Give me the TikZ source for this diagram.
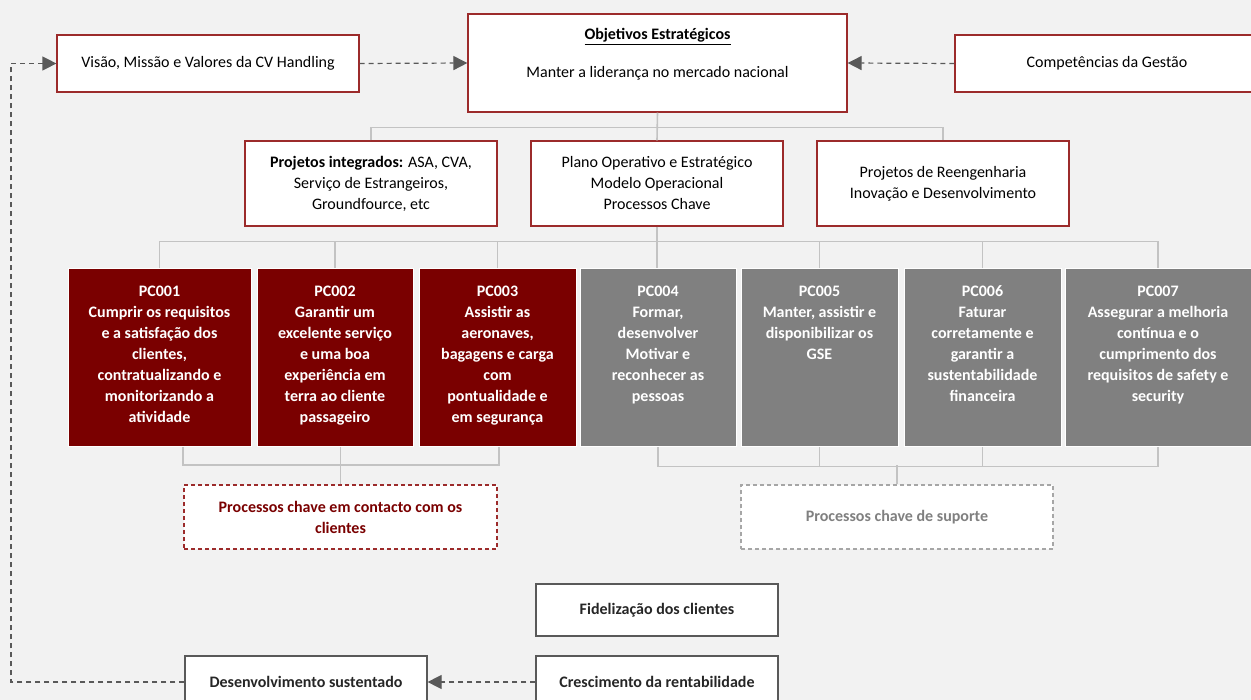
\documentclass[tikz,border=0pt]{standalone}
\usepackage{fontspec}
\setmainfont{Carlito}
\usetikzlibrary{arrows.meta}
\definecolor{bg}{HTML}{F2F2F2}
\definecolor{boxred}{HTML}{9C2B2B}
\definecolor{pcred}{HTML}{7A0000}
\definecolor{pcgray}{HTML}{808080}
\definecolor{treegray}{HTML}{C3C3C3}
\definecolor{arrgray}{HTML}{595959}
\definecolor{supgray}{HTML}{A6A6A6}
\definecolor{suptext}{HTML}{808080}
\definecolor{darktext}{HTML}{262626}
\newcommand{\basesize}{\fontsize{16}{21}\selectfont}
\newcommand{\pctxt}[2]{\begin{minipage}[c][178pt][t]{#1}\centering\vspace*{17pt}#2\end{minipage}}
\tikzset{
  topbox/.style={draw=boxred, fill=white, line width=1.2pt, align=center, inner sep=0pt, text=black},
  pcbox/.style={draw=white, line width=1pt, inner sep=0pt, text=white, font=\basesize\bfseries, minimum height=178pt},
  redpc/.style={pcbox, fill=pcred},
  graypc/.style={pcbox, fill=pcgray},
  tree/.style={draw=treegray, line width=1.6pt},
  darr/.style={draw=arrgray, line width=1.2pt, dash pattern=on 5pt off 4pt, -{Triangle[length=14pt,width=14pt]}},
  ckbox/.style={draw=boxred, fill=white, line width=1.2pt, dash pattern=on 4pt off 3pt, align=center, inner sep=0pt, text=pcred, font=\basesize\bfseries},
  ksbox/.style={draw=supgray, fill=white, line width=1.2pt, dash pattern=on 4pt off 3pt, align=center, inner sep=0pt, text=suptext, font=\basesize\bfseries},
  botbox/.style={draw=arrgray, fill=white, line width=1.2pt, align=center, inner sep=0pt, text=darktext, font=\basesize\bfseries, minimum width=242pt, minimum height=52pt}
}
\begin{document}
\begin{tikzpicture}[x=1pt,y=-1pt, font=\basesize]
\useasboundingbox (0,0) rectangle (1251,700);
\fill[bg] (0,0) rectangle (1251,700);

% top row
\node[topbox, minimum width=302pt, minimum height=57pt] (vis) at (208,63.5) {Visão, Missão e Valores da CV Handling};
\node[topbox, minimum width=379pt, minimum height=98pt] (obj) at (657.5,63) {};
\node (objt) at (657.5,36.5) {\bfseries\underline{Objetivos Estratégicos}};
\node (objm) at (657.5,73.5) {Manter a liderança no mercado nacional};
\node[topbox, minimum width=304pt, minimum height=57pt] (comp) at (1107,63.5) {Competências da Gestão};

% second row
\node[topbox, minimum width=252pt, minimum height=85pt] (pi) at (371,183.5) {\textbf{Projetos integrados:} ASA, CVA,\\Serviço de Estrangeiros,\\Groundfource, etc};
\node[topbox, minimum width=252pt, minimum height=85pt] (pl) at (657,183.5) {Plano Operativo e Estratégico\\Modelo Operacional\\Processos Chave};
\node[topbox, minimum width=252pt, minimum height=85pt] (re) at (943,183.5) {Projetos de Reengenharia\\Inovação e Desenvolvimento};

% PC row
\node[redpc, minimum width=183pt] (pc1) at (159.5,358) {\pctxt{183pt}{PC001\\Cumprir os requisitos\\e a satisfação dos\\clientes,\\contratualizando e\\monitorizando a\\atividade}};
\node[redpc, minimum width=156pt] (pc2) at (335,358) {\pctxt{156pt}{PC002\\Garantir um\\excelente serviço\\e uma boa\\experiência em\\terra ao cliente\\passageiro}};
\node[redpc, minimum width=157pt] (pc3) at (497.5,358) {\pctxt{157pt}{PC003\\Assistir as\\aeronaves,\\bagagens e carga\\com\\pontualidade e\\em segurança}};
\node[graypc, minimum width=156pt] (pc4) at (658,358) {\pctxt{156pt}{PC004\\Formar,\\desenvolver\\Motivar e\\reconhecer as\\pessoas}};
\node[graypc, minimum width=157pt] (pc5) at (819.5,358) {\pctxt{157pt}{PC005\\Manter, assistir e\\disponibilizar os\\GSE}};
\node[graypc, minimum width=157pt] (pc6) at (982.5,358) {\pctxt{157pt}{PC006\\Faturar\\corretamente e\\garantir a\\sustentabilidade\\financeira}};
\node[graypc, minimum width=186pt] (pc7) at (1158,358) {\pctxt{186pt}{PC007\\Assegurar a melhoria\\contínua e o\\cumprimento dos\\requisitos de safety e\\security}};

% group boxes
\node[ckbox, minimum width=313pt, minimum height=64pt] (ck) at (340.5,517) {Processos chave em contacto com os\\clientes};
\node[ksbox, minimum width=312pt, minimum height=64pt] (ks) at (897,517) {Processos chave de suporte};

% bottom boxes
\node[botbox] (fid) at (657,610) {Fidelização dos clientes};
\node[botbox] (cr) at (657,682) {Crescimento da rentabilidade};
\node[botbox] (de) at (306,682) {Desenvolvimento sustentado};

% tree connectors
\draw[tree] (pi.north) -- ++(0,-13) -| (re.north);
\draw[tree] (obj.south) -- (pl.north);
\draw[tree] (pc1.north) -- ++(0,-27) -| (pc7.north);
\draw[tree] (pl.south) -- (pl.south |- pc4.north);
\foreach \p in {pc2,pc3,pc5,pc6}{\draw[tree] (\p.north) -- ++(0,-27);}

\coordinate (b1) at (183,465);
\coordinate (b2) at (340.5,465);
\coordinate (b3) at (499,465);
\draw[tree] (pc1.south -| b1) -- (b1) -- (b3) -- (pc3.south -| b3);
\draw[tree] (pc2.south -| b2) -- (ck.north);
\draw[tree] (pc4.south) -- ++(0,19) -| (pc7.south);
\draw[tree] (pc5.south) -- ++(0,19);
\draw[tree] (pc6.south) -- ++(0,19);
\draw[tree] (ks.north) -- ++(0,-19);

% dashed arrows
\draw[darr] (vis.east) -- (obj.west);
\draw[darr] (comp.west) -- (obj.east);
\draw[darr] (cr.west) -- (de.east);
\coordinate (lx) at (11,400);
\draw[darr] (de.west) -| (lx) |- (vis.west);
\end{tikzpicture}
\end{document}
